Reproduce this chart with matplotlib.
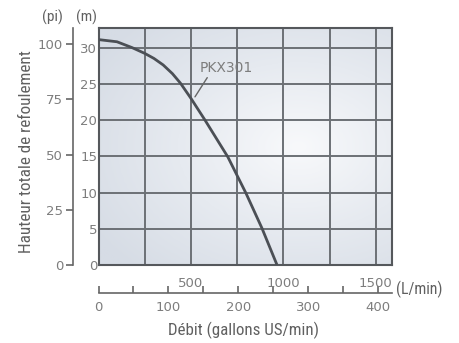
import numpy as np
import matplotlib
matplotlib.use("Agg")
import matplotlib.pyplot as plt
from matplotlib import font_manager as fm
from matplotlib.colors import LinearSegmentedColormap

# Pump curve PKX301 (flow in L/min, head in m)
flow_lpm = [0, 100, 181, 250, 300, 350, 400, 443, 500, 576, 700, 798, 884, 966]
head_m = [31.1, 30.8, 30.0, 29.2, 28.5, 27.6, 26.4, 25.1, 23.0, 20.0, 14.9, 9.9, 5.1, 0.0]

m_ticks = [0, 5, 10, 15, 20, 25, 30]
ft_ticks = [0, 25, 50, 75, 100]
lpm_ticks = [500, 1000, 1500]
lpm_grid_minor = [250, 750, 1250]
gpm_ticks = [0, 100, 200, 300, 400]
gpm_minor = [50, 150, 250, 350]

M_TO_FT = 3.28084
L_PER_GAL = 3.78541


def pick_narrow_font():
    # look for a condensed / narrow sans face among the installed fonts
    good = []
    for f in fm.fontManager.ttflist:
        name = f.name.lower()
        fname = f.fname.lower()
        narrow = ("condensed" in str(f.stretch) or "narrow" in name or "condensed" in name
                  or "condensed" in fname or "narrow" in fname)
        if not narrow or f.style != "normal":
            continue
        if f.weight not in (400, "normal", "regular", "book"):
            continue
        if "bold" in fname or "light" in fname or "mono" in fname or "serif" in name and "sans" not in name:
            continue
        good.append(f)
    pref = ["roboto", "liberation", "dejavu", "open sans", "noto sans"]
    for p in pref:
        for f in good:
            if p in f.name.lower():
                return fm.FontProperties(fname=f.fname)
    if good:
        return fm.FontProperties(fname=good[0].fname)
    return fm.FontProperties(family="Liberation Sans")


narrow_fp = pick_narrow_font()
NUM = ["DejaVu Sans"]
num_col = "#7d7d7d"
txt_col = "#606060"
line_col = "#6c7075"

W, H = 459, 343
fig = plt.figure(figsize=(W / 100, H / 100), dpi=100)
ax = fig.add_axes([98.5 / W, 1 - 265 / H, (392 - 98.5) / W, (265 - 28) / H])
ax.set_xlim(0, 1588)
ax.set_ylim(0, 32.7)

# soft background gradient in the plot area
gx, gy = np.meshgrid(np.linspace(0, 1, 200), np.linspace(0, 1, 200))
dist = np.sqrt(((gx - 0.68) / 0.75) ** 2 + ((gy - 0.5) / 0.65) ** 2)
cmap = LinearSegmentedColormap.from_list("bg", ["#f8f9fb", "#e6eaf0", "#d6dce5"])
ax.imshow(dist, cmap=cmap, extent=[0, 1, 0, 1], transform=ax.transAxes,
          origin="lower", aspect="auto", zorder=0, vmin=0, vmax=1.1)

ax.set_xticks(lpm_ticks)
ax.set_xticks(lpm_grid_minor, minor=True)
ax.set_yticks(m_ticks)
ax.grid(which="both", color=line_col, lw=1.4, zorder=1)
ax.tick_params(which="both", length=0)
ax.tick_params(axis="x", pad=8.5, labelsize=9.5, labelcolor=num_col)
ax.tick_params(axis="y", pad=1, labelsize=9.5, labelcolor=num_col)
for lab in ax.get_xticklabels() + ax.get_yticklabels():
    lab.set_family(NUM)
for s in ax.spines.values():
    s.set_color("#55585c")
    s.set_linewidth(1.5)

ax.plot(flow_lpm, head_m, color="#4b4f55", lw=2, zorder=3,
        solid_capstyle="butt", solid_joinstyle="round")
ax.annotate("PKX301", xy=(522, 23.2), xytext=(549, 27.2), ha="left", va="center",
            fontsize=10, family=NUM, color=num_col,
            arrowprops=dict(arrowstyle="-", color="#666666", lw=1,
                            relpos=(0.17, 0), shrinkA=0, shrinkB=0))

# feet axis on the left
ft_ax = ax.secondary_yaxis(-0.087, functions=(lambda m: m * M_TO_FT, lambda f: f / M_TO_FT))
ft_ax.set_yticks(ft_ticks)
ft_ax.tick_params(length=5, width=1.2, color="#666666", pad=2,
                  labelsize=9.5, labelcolor=num_col)
ft_ax.spines["left"].set_color("#666666")
ft_ax.spines["left"].set_linewidth(1.2)
for lab in ft_ax.get_yticklabels():
    lab.set_family(NUM)

# US gallons axis below
gal_ax = ax.secondary_xaxis(-0.118, functions=(lambda l: l / L_PER_GAL, lambda g: g * L_PER_GAL))
gal_ax.set_xticks(gpm_ticks)
gal_ax.set_xticks(gpm_minor, minor=True)
gal_ax.tick_params(which="both", direction="in", length=5, width=1.2, color="#666666")
gal_ax.tick_params(pad=6, labelsize=9.5, labelcolor=num_col)
gal_ax.spines["bottom"].set_color("#666666")
gal_ax.spines["bottom"].set_linewidth(1.2)
for lab in gal_ax.get_xticklabels():
    lab.set_family(NUM)

# (text, x px, y px, ha, rotation, target extent px)
labels = [
    ("(pi)", 52.5, 17, "center", 0, 21),
    ("(m)", 86.5, 17, "center", 0, 21),
    ("(L/min)", 396, 289, "left", 0, 47),
    ("Débit (gallons US/min)", 243, 330, "center", 0, 151),
    ("Hauteur totale de refoulement", 27, 151.5, "center", 90, 203),
]
texts = []
for s, px, py, ha, rot, ext in labels:
    t = fig.text(px / W, 1 - py / H, s, ha=ha, va="center", rotation=rot,
                 fontproperties=narrow_fp, fontsize=13.3, color=txt_col)
    texts.append((t, rot, ext))

# size each label so its length matches the reference
fig.canvas.draw()
r = fig.canvas.get_renderer()
for t, rot, ext in texts:
    bb = t.get_window_extent(r)
    cur = bb.height if rot else bb.width
    t.set_fontsize(min(13.5, t.get_fontsize() * ext / cur))

fig.savefig("out.png", dpi=100)
